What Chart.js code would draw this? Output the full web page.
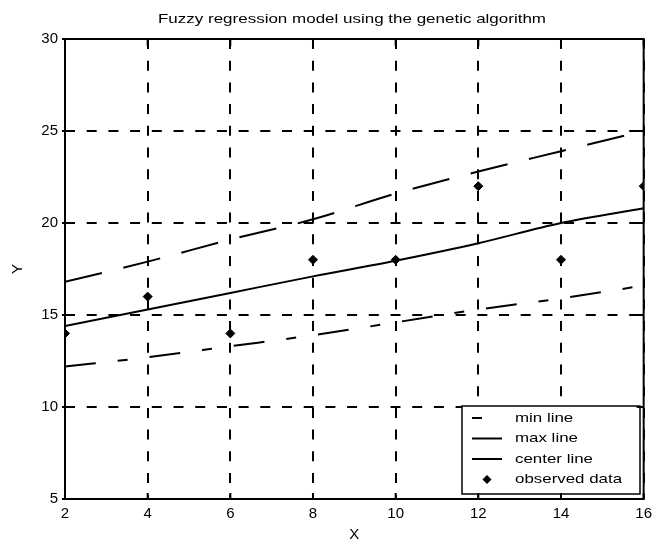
<!DOCTYPE html>
<html>
<head>
<meta charset="utf-8">
<script src="https://cdn.jsdelivr.net/npm/chart.js@4"></script>
<style>
    body { margin: 0; background: #fff; }
    #wrap { width: 658px; height: 548px; }
</style>
</head>
<body>
<div id="wrap"><canvas id="fuzzyChart" width="658" height="548"></canvas></div>
<script>
// values
const xValues = [2, 4, 6, 8, 10, 12, 14, 16];
const minLine = [12.2, 12.7, 13.3, 13.9, 14.6, 15.3, 15.9, 16.6];
const maxLine = [16.8, 17.9, 19.1, 20.2, 21.6, 22.8, 23.9, 25.0];
const centerLine = [14.4, 15.3, 16.2, 17.1, 17.95, 18.9, 20.0, 20.8];
const observed = [14, 16, 14, 18, 18, 22, 18, 22];

const seriesLabels = ['min line', 'max line', 'center line', 'observed data'];
const titleText = 'Fuzzy regression model using the genetic algorithm';
const xRange = [2, 16, 2];
const yRange = [5, 30, 5];

function toPoints(values) {
    return xValues.map((x, i) => ({ x: x, y: values[i] }));
}

// text drawn a bit wider than the font, like the reference
function drawWideText(ctx, text, x, y, sx, align) {
    ctx.save();
    ctx.translate(x, y);
    ctx.scale(sx, 1);
    ctx.textAlign = align;
    ctx.textBaseline = 'middle';
    ctx.fillText(text, 0, 0);
    ctx.restore();
}

const framePlugin = {
    id: 'frame',
    afterDraw(chart) {
        const ctx = chart.ctx;
        const area = chart.chartArea;
        const xs = chart.scales.x;
        const ys = chart.scales.y;

        // title
        ctx.save();
        ctx.fillStyle = '#000';
        ctx.font = '13px "Liberation Sans", Arial, sans-serif';
        const tw = ctx.measureText(titleText).width;
        drawWideText(ctx, titleText, 352, 19, 388 / tw, 'center');
        ctx.restore();

        // legend box
        const box = { left: 462, top: 406, right: 640, bottom: 494 };
        ctx.save();
        ctx.fillStyle = '#fff';
        ctx.fillRect(box.left, box.top, box.right - box.left, box.bottom - box.top);
        ctx.strokeStyle = '#000';
        ctx.lineWidth = 1.5;
        ctx.strokeRect(box.left, box.top, box.right - box.left, box.bottom - box.top);
        ctx.font = '13px "Liberation Sans", Arial, sans-serif';
        ctx.fillStyle = '#000';
        chart.data.datasets.forEach((ds, i) => {
            const yy = 418 + i * 20.5;
            if (ds.showLine === false) {
                ctx.beginPath();
                ctx.moveTo(487, yy - 4.5);
                ctx.lineTo(491.5, yy);
                ctx.lineTo(487, yy + 4.5);
                ctx.lineTo(482.5, yy);
                ctx.closePath();
                ctx.fill();
            } else {
                ctx.beginPath();
                ctx.lineWidth = 2;
                ctx.setLineDash(ds.borderDash || []);
                ctx.lineDashOffset = ds.legendDashOffset || 0;
                ctx.moveTo(472, yy);
                ctx.lineTo(502, yy);
                ctx.stroke();
                ctx.setLineDash([]);
            }
            drawWideText(ctx, ds.label, 515, yy, 1.3, 'left');
        });
        ctx.restore();

        // box around the plot with inner ticks
        ctx.save();
        ctx.strokeStyle = '#000';
        ctx.lineWidth = 2;
        ctx.strokeRect(area.left, area.top, area.right - area.left, area.bottom - area.top);
        ctx.beginPath();
        xs.ticks.forEach(t => {
            const px = xs.getPixelForValue(t.value);
            ctx.moveTo(px, area.top);
            ctx.lineTo(px, area.top + 7);
            ctx.moveTo(px, area.bottom);
            ctx.lineTo(px, area.bottom - 6);
        });
        ys.ticks.forEach(t => {
            const py = ys.getPixelForValue(t.value);
            ctx.moveTo(area.left, py);
            ctx.lineTo(area.left + 7, py);
            ctx.moveTo(area.right, py);
            ctx.lineTo(area.right - 7, py);
            ctx.moveTo(area.left - 3, py);
            ctx.lineTo(area.left, py);
        });
        ctx.stroke();
        ctx.restore();
    }
};

const ctx = document.getElementById('fuzzyChart').getContext('2d');
const fuzzyChart = new Chart(ctx, {
    type: 'line',
    data: {
        datasets: [{
            label: seriesLabels[0],
            data: toPoints(minLine),
            borderColor: '#000',
            borderWidth: 2,
            borderDash: [31, 22, 10, 22],
            legendDashOffset: 53,
            pointRadius: 0,
            cubicInterpolationMode: 'monotone',
            fill: false
        }, {
            label: seriesLabels[1],
            data: toPoints(maxLine),
            borderColor: '#000',
            borderWidth: 2,
            borderDash: [38, 22],
            pointRadius: 0,
            cubicInterpolationMode: 'monotone',
            fill: false
        }, {
            label: seriesLabels[2],
            data: toPoints(centerLine),
            borderColor: '#000',
            borderWidth: 2,
            pointRadius: 0,
            cubicInterpolationMode: 'monotone',
            fill: false
        }, {
            label: seriesLabels[3],
            data: toPoints(observed),
            showLine: false,
            pointStyle: 'rectRot',
            pointRadius: 4.5,
            pointBackgroundColor: '#000',
            pointBorderColor: '#000',
            borderColor: '#000'
        }]
    },
    options: {
        responsive: false,
        animation: false,
        layout: {
            padding: { top: 39, right: 9, left: 0, bottom: 0 }
        },
        plugins: {
            legend: { display: false },
            title: { display: false },
            tooltip: { enabled: false }
        },
        scales: {
            x: {
                type: 'linear',
                min: xRange[0],
                max: xRange[1],
                afterFit: s => { s.height = 49; },
                ticks: {
                    stepSize: xRange[2],
                    color: '#000',
                    padding: 6,
                    font: { family: '"Liberation Sans", Arial, sans-serif', size: 15 }
                },
                grid: { color: '#000', lineWidth: 2, drawTicks: false },
                border: { display: false, dash: [10, 11.7] },
                title: {
                    display: true,
                    text: 'X',
                    color: '#000',
                    padding: { top: 0, bottom: 4 },
                    font: { family: '"Liberation Sans", Arial, sans-serif', size: 15 }
                }
            },
            y: {
                min: yRange[0],
                max: yRange[1],
                afterFit: s => { s.width = 65; },
                ticks: {
                    stepSize: yRange[2],
                    color: '#000',
                    padding: 7,
                    font: { family: '"Liberation Sans", Arial, sans-serif', size: 15 }
                },
                grid: { color: '#000', lineWidth: 2, drawTicks: false },
                border: { display: false, dash: [10, 11.7] },
                title: {
                    display: true,
                    text: 'Y',
                    color: '#000',
                    padding: { top: 9, bottom: 0 },
                    font: { family: '"Liberation Sans", Arial, sans-serif', size: 15 }
                }
            }
        }
    },
    plugins: [framePlugin]
});
</script>
</body>
</html>
